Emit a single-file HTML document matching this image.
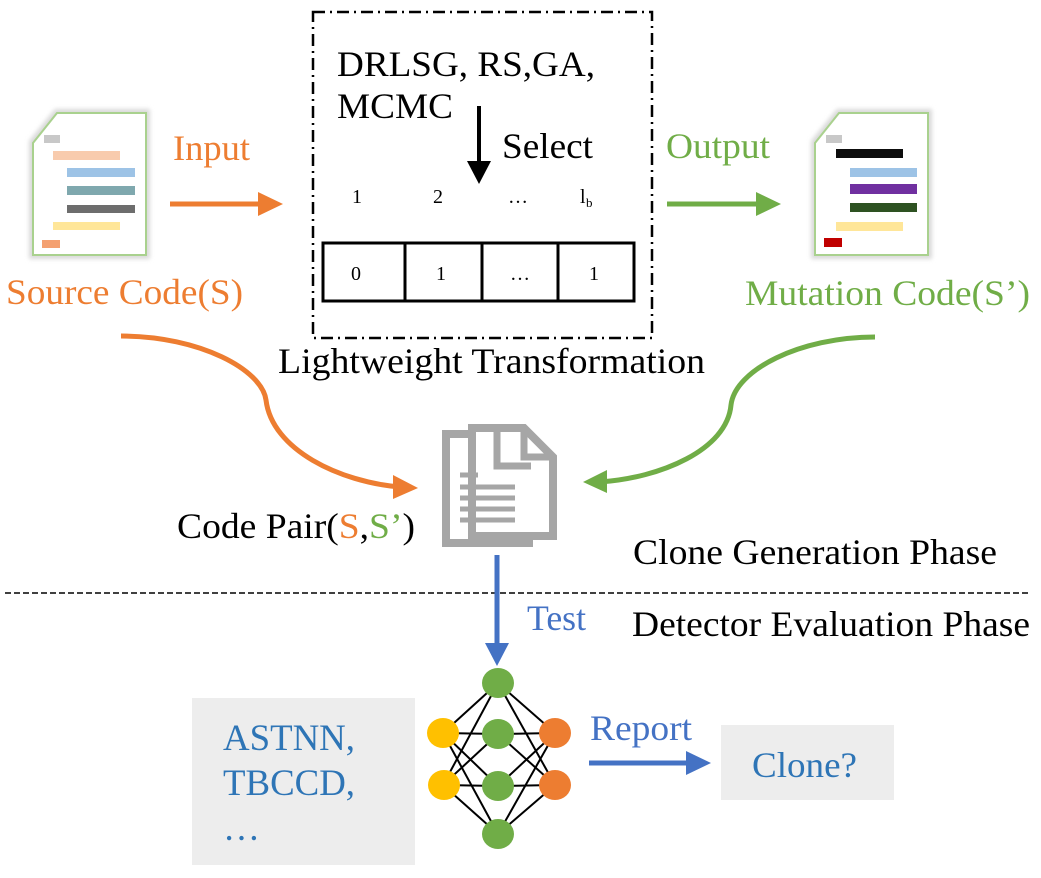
<!DOCTYPE html>
<html><head><meta charset="utf-8"><style>
html,body{margin:0;padding:0;background:#fff;}
svg text{font-family:"Liberation Serif",serif;}
</style></head><body>
<svg width="1041" height="873" viewBox="0 0 1041 873" xmlns="http://www.w3.org/2000/svg">
<defs>
<filter id="sh" x="-20%" y="-20%" width="140%" height="140%"><feGaussianBlur stdDeviation="2"/></filter>
</defs>
<!-- left doc -->
<path d="M55,109 H150 V259 H29 V141 Z" fill="#d9d9d9" filter="url(#sh)"/>
<path d="M57,113 H146 V255 H33 V143 Z" fill="#fff" stroke="#a9d18e" stroke-width="2"/>
<rect x="44" y="135" width="16" height="8" fill="#c8c8c8"/>
<rect x="53" y="151" width="67" height="9" fill="#f8cbad"/>
<rect x="67" y="168" width="68" height="9" fill="#9dc3e6"/>
<rect x="67" y="186" width="68" height="9" fill="#7fa8ae"/>
<rect x="67" y="205" width="68" height="8" fill="#6d6d6d"/>
<rect x="53" y="222" width="67" height="8" fill="#ffe699"/>
<rect x="42" y="240" width="18" height="8" fill="#f4a070"/>
<!-- right doc -->
<path d="M837,109 H932 V259 H811 V141 Z" fill="#d9d9d9" filter="url(#sh)"/>
<path d="M839,113 H928 V255 H815 V143 Z" fill="#fff" stroke="#a9d18e" stroke-width="2"/>
<rect x="826" y="135" width="16" height="8" fill="#c8c8c8"/>
<rect x="836" y="149" width="67" height="9" fill="#0d0d0d"/>
<rect x="850" y="168" width="67" height="9" fill="#9dc3e6"/>
<rect x="850" y="184" width="67" height="10" fill="#7030a0"/>
<rect x="850" y="203" width="67" height="9" fill="#2e5222"/>
<rect x="836" y="222" width="67" height="9" fill="#ffe699"/>
<rect x="824" y="238" width="18" height="9" fill="#c00000"/>

<text x="6" y="304" font-size="36" fill="#ed7d31" textLength="237" lengthAdjust="spacingAndGlyphs">Source Code(S)</text>
<text x="173" y="160" font-size="36" fill="#ed7d31" textLength="77" lengthAdjust="spacingAndGlyphs">Input</text>
<line x1="170" y1="204" x2="262" y2="204" stroke="#ed7d31" stroke-width="5"/>
<polygon points="258,192 283,204 258,216" fill="#ed7d31"/>
<text x="666" y="158" font-size="36" fill="#70ad47" textLength="104" lengthAdjust="spacingAndGlyphs">Output</text>
<line x1="667" y1="204" x2="760" y2="204" stroke="#70ad47" stroke-width="5"/>
<polygon points="756,192 781,204 756,216" fill="#70ad47"/>
<text x="745" y="305" font-size="36" fill="#70ad47" textLength="285" lengthAdjust="spacingAndGlyphs">Mutation Code(S’)</text>

<!-- dashed box -->
<rect x="313" y="12" width="339" height="326" fill="none" stroke="#000" stroke-width="2.5" stroke-dasharray="12,5,2,5"/>
<text x="337" y="76" font-size="36" textLength="258" lengthAdjust="spacingAndGlyphs">DRLSG, RS,GA,</text>
<text x="337" y="118" font-size="36" textLength="116" lengthAdjust="spacingAndGlyphs">MCMC</text>
<line x1="479" y1="106" x2="479" y2="165" stroke="#000" stroke-width="4"/>
<polygon points="467,161 491,161 479,184" fill="#000"/>
<text x="502" y="158" font-size="36" textLength="91" lengthAdjust="spacingAndGlyphs">Select</text>
<text x="352" y="203" font-size="20">1</text>
<text x="433" y="203" font-size="20">2</text>
<text x="508" y="203" font-size="20">…</text>
<text x="580" y="203" font-size="20">l</text><text x="586" y="207" font-size="13">b</text>
<rect x="323" y="243" width="311" height="58" fill="none" stroke="#000" stroke-width="3"/>
<line x1="405" y1="243" x2="405" y2="301" stroke="#000" stroke-width="3"/>
<line x1="482" y1="243" x2="482" y2="301" stroke="#000" stroke-width="3"/>
<line x1="558" y1="243" x2="558" y2="301" stroke="#000" stroke-width="3"/>
<text x="351" y="280" font-size="20">0</text>
<text x="436" y="280" font-size="20">1</text>
<text x="510" y="280" font-size="20">…</text>
<text x="589" y="280" font-size="20">1</text>
<text x="278" y="373" font-size="36" textLength="427" lengthAdjust="spacingAndGlyphs">Lightweight Transformation</text>

<!-- curves -->
<path d="M121,336 C200,336 262,370 266,400 C272,450 340,482 400,487" fill="none" stroke="#ed7d31" stroke-width="5"/>
<polygon points="393,475 418,488 393,499" fill="#ed7d31"/>
<path d="M875,337 C800,337 735,370 731,405 C727,450 660,478 600,482" fill="none" stroke="#70ad47" stroke-width="5"/>
<polygon points="607,470 583,482 607,493" fill="#70ad47"/>

<!-- code pair icon -->
<g stroke="#a6a6a6" stroke-width="8" fill="#fff">
<path d="M446,434 H497 L529,466 V543 H446 Z"/>
<path d="M472,428 H524 L553,457 V536 H472 Z"/>
</g>
<path d="M497,430 V466 H531" fill="none" stroke="#a6a6a6" stroke-width="7"/>
<path d="M524,430 V457 H551" fill="none" stroke="#a6a6a6" stroke-width="7"/>
<g stroke="#a6a6a6" stroke-width="5">
<line x1="460" y1="475" x2="478" y2="475"/>
<line x1="460" y1="487" x2="515" y2="487"/>
<line x1="460" y1="498" x2="515" y2="498"/>
<line x1="460" y1="509" x2="515" y2="509"/>
<line x1="460" y1="520" x2="515" y2="520"/>
</g>
<text x="177" y="538" font-size="36" textLength="238" lengthAdjust="spacingAndGlyphs">Code Pair(<tspan fill="#ed7d31">S</tspan>,<tspan fill="#70ad47">S’</tspan>)</text>

<text x="633" y="564" font-size="36" textLength="364" lengthAdjust="spacingAndGlyphs">Clone Generation Phase</text>
<line x1="5" y1="593" x2="1030" y2="593" stroke="#000" stroke-width="1.5" stroke-dasharray="6,3"/>
<text x="632" y="636" font-size="36" textLength="398" lengthAdjust="spacingAndGlyphs">Detector Evaluation Phase</text>
<line x1="497" y1="555" x2="497" y2="645" stroke="#4472c4" stroke-width="5"/>
<polygon points="485,643 509,643 497,666" fill="#4472c4"/>
<text x="527" y="630" font-size="36" fill="#4472c4" textLength="59" lengthAdjust="spacingAndGlyphs">Test</text>

<!-- NN -->
<g stroke="#000" stroke-width="2">
<line x1="443" y1="733" x2="498" y2="683"/><line x1="443" y1="733" x2="498" y2="734"/><line x1="443" y1="733" x2="498" y2="786"/><line x1="443" y1="733" x2="498" y2="834"/>
<line x1="443" y1="785" x2="498" y2="683"/><line x1="443" y1="785" x2="498" y2="734"/><line x1="443" y1="785" x2="498" y2="786"/><line x1="443" y1="785" x2="498" y2="834"/>
<line x1="555" y1="733" x2="498" y2="683"/><line x1="555" y1="733" x2="498" y2="734"/><line x1="555" y1="733" x2="498" y2="786"/><line x1="555" y1="733" x2="498" y2="834"/>
<line x1="555" y1="785" x2="498" y2="683"/><line x1="555" y1="785" x2="498" y2="734"/><line x1="555" y1="785" x2="498" y2="786"/><line x1="555" y1="785" x2="498" y2="834"/>
</g>
<g fill="#70ad47">
<ellipse cx="498" cy="683" rx="16" ry="15"/><ellipse cx="498" cy="734" rx="16" ry="15"/><ellipse cx="498" cy="786" rx="16" ry="15"/><ellipse cx="498" cy="834" rx="16" ry="15"/>
</g>
<g fill="#ffc000"><ellipse cx="443" cy="733" rx="16" ry="15"/><ellipse cx="444" cy="785" rx="16" ry="15"/></g>
<g fill="#ed7d31"><ellipse cx="555" cy="733" rx="16" ry="15"/><ellipse cx="555" cy="785" rx="16" ry="15"/></g>

<rect x="192" y="698" width="223" height="167" fill="#ededed"/>
<text x="223" y="750" font-size="37" fill="#2e75b6" textLength="132" lengthAdjust="spacingAndGlyphs">ASTNN,</text>
<text x="223" y="795" font-size="37" fill="#2e75b6" textLength="132" lengthAdjust="spacingAndGlyphs">TBCCD,</text>
<text x="223" y="840" font-size="37" fill="#2e75b6">…</text>

<text x="590" y="740" font-size="36" fill="#4472c4" textLength="102" lengthAdjust="spacingAndGlyphs">Report</text>
<line x1="589" y1="763" x2="690" y2="763" stroke="#4472c4" stroke-width="5"/>
<polygon points="686,751 711,763 686,775" fill="#4472c4"/>
<rect x="721" y="725" width="173" height="75" fill="#ededed"/>
<text x="752" y="777" font-size="36" fill="#2e75b6" textLength="105" lengthAdjust="spacingAndGlyphs">Clone?</text>
</svg>
</body></html>
